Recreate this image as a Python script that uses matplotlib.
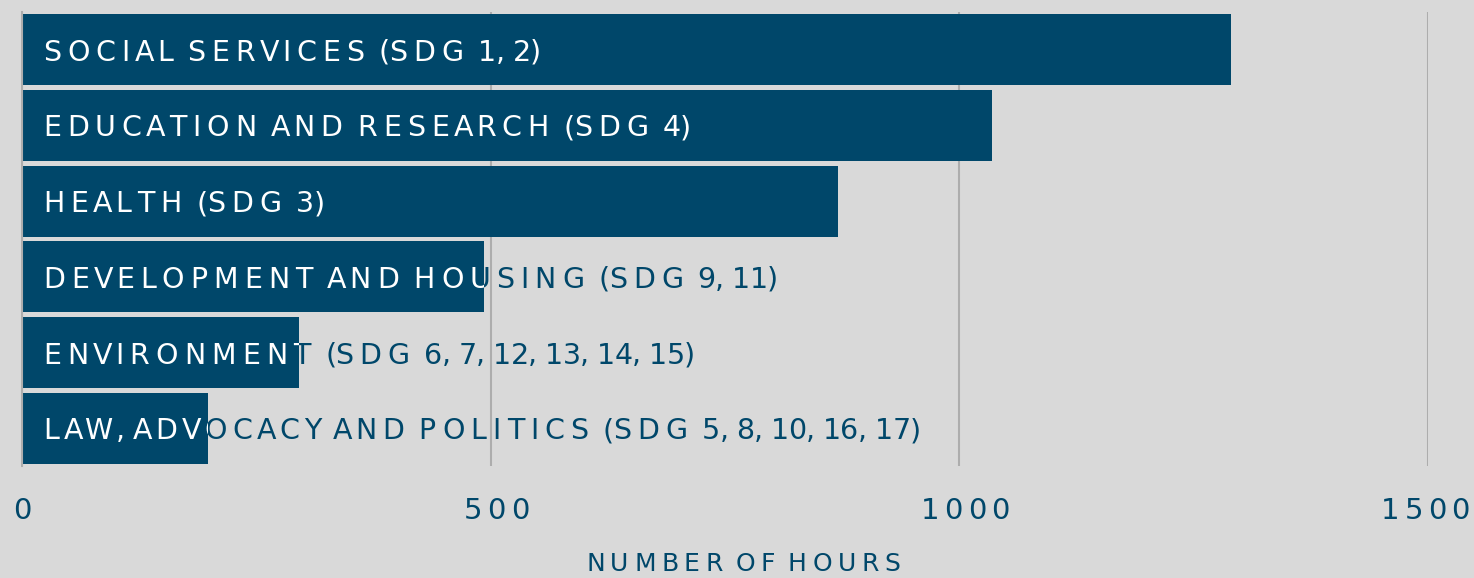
import numpy as np
import matplotlib
matplotlib.use("Agg")
import matplotlib.pyplot as plt
from matplotlib import font_manager
from matplotlib.ft2font import FT2Font
from matplotlib.transforms import offset_copy

categories = [
    "SOCIAL SERVICES (SDG 1, 2)",
    "EDUCATION AND RESEARCH (SDG 4)",
    "HEALTH (SDG 3)",
    "DEVELOPMENT AND HOUSING (SDG 9, 11)",
    "ENVIRONMENT (SDG 6, 7, 12, 13, 14, 15)",
    "LAW, ADVOCACY AND POLITICS (SDG 5, 8, 10, 16, 17)",
]
hours = [1290, 1035, 871, 493, 296, 198]
x_ticks = [0, 500, 1000, 1500]
x_label = "NUMBER OF HOURS"

DPI = 100
FAMILY = "DejaVu Sans"
bg = "#d9d9d9"
navy = "#00476a"
grid_col = "#adadad"

plt.rcParams['font.family'] = [FAMILY]
font_path = font_manager.findfont(font_manager.FontProperties(family=FAMILY))
DIAG = "AVWY"


def char_advances(text, size):
    # glyph advances in pixels, so the letters can be spread out a bit
    font = FT2Font(font_path)
    font.set_size(size, DPI)
    return [font.load_char(ord(c)).linearHoriAdvance / 65536 for c in text]


def letter_gap(c, nxt, letter_sp, other_sp):
    if not c.isalpha():
        return other_sp
    gap = letter_sp
    if c in DIAG:          # slanted letters sit a little tighter
        gap -= 3.0
    if nxt in DIAG:
        gap -= 1.5
    return gap


def spaced_text(ax, text, x, y, trans, size, color, letter_sp, other_sp=0.0,
                ha="left", dx=0.0, dy=0.0, clip=None):
    adv = np.array(char_advances(text, size))
    nxt = text[1:] + " "
    gaps = np.array([letter_gap(c, n, letter_sp, other_sp) for c, n in zip(text, nxt)])
    pos = np.concatenate([[0], np.cumsum(adv + gaps)])
    total = pos[-1] - gaps[-1]
    if ha == "center":
        dx -= total / 2
    elif ha == "right":
        dx -= total
    for c, p in zip(text, pos[:-1]):
        if c == " ":
            continue
        tr = offset_copy(trans, fig=ax.figure, x=dx + p, y=dy, units="dots")
        t = ax.text(x, y, c, transform=tr, fontsize=size, color=color,
                    ha="left", va="baseline")
        if clip is not None:
            t.set_clip_on(True)
            t.set_clip_path(clip)


fig = plt.figure(figsize=(14.74, 5.78), dpi=DPI, facecolor=bg)
ax = fig.add_axes([22 / 1474, 1 - 466 / 578, 1406 / 1474, 454 / 578])
ax.set_facecolor(bg)

y = np.arange(len(categories))
bars = ax.barh(y, hours, height=0.94, color=navy, zorder=2)

ax.set_xlim(0, 1500)
ax.set_ylim(len(categories) - 0.5, -0.5)

label_size = 20.5
for i, (bar, label) in enumerate(zip(bars, categories)):
    # navy text where it runs past the bar, white text clipped to the bar
    for col, clip in [(navy, None), ("white", bar)]:
        spaced_text(ax, label, 0, i, ax.transData, label_size, col,
                    letter_sp=6.0, other_sp=-0.6, dx=21, dy=-11, clip=clip)

ax.set_xticks(x_ticks)
ax.set_xticklabels([])
ax.set_yticks([])
ax.tick_params(axis="x", length=0)
ax.xaxis.grid(True, color=grid_col, linewidth=1.5, zorder=0)

xtrans = ax.get_xaxis_transform()
for v in x_ticks:
    if v == x_ticks[-1]:
        # last label is pulled in so it stays on the canvas
        spaced_text(ax, str(v), 1, 0, ax.transAxes, 21, navy, 0, other_sp=5,
                    ha="right", dx=42, dy=-53)
    else:
        spaced_text(ax, str(v), v, 0, xtrans, 21, navy, 0, other_sp=5,
                    ha="center", dx=6 if v else 0, dy=-53)

spaced_text(ax, x_label, 743 / 1474, 0, fig.transFigure, 18, navy,
            letter_sp=5.5, other_sp=-0.5, ha="center", dy=7)

for side in ["top", "right", "bottom"]:
    ax.spines[side].set_visible(False)
ax.spines["left"].set_color(grid_col)
ax.spines["left"].set_linewidth(1.5)

fig.savefig("out.png", dpi=DPI, facecolor=bg)
